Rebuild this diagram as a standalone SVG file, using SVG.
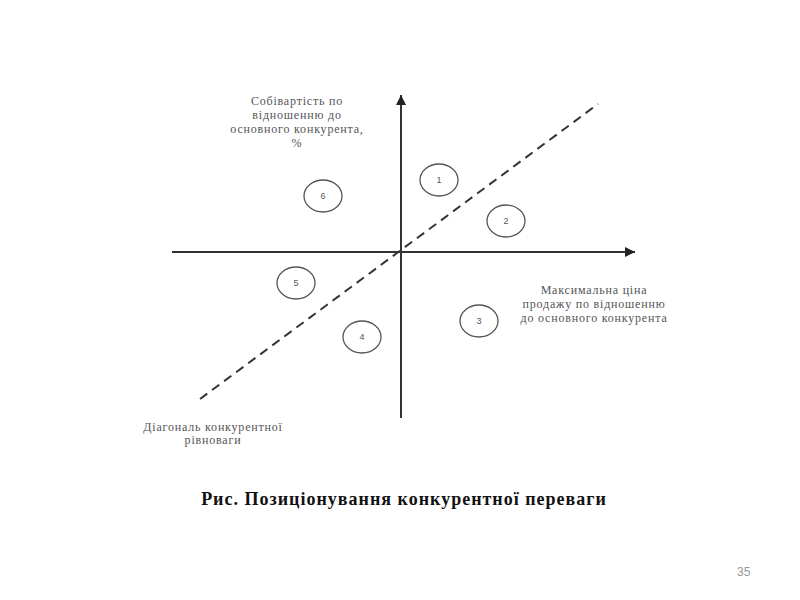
<svg xmlns="http://www.w3.org/2000/svg" width="800" height="600" viewBox="0 0 800 600">
<defs>
<marker id="arr" viewBox="0 0 10 10" refX="10" refY="5" markerWidth="10" markerHeight="10" markerUnits="userSpaceOnUse" orient="auto">
<path d="M0,0 L10,5 L0,10 z" fill="#222"/>
</marker>
<style>
.ax{stroke:#333;stroke-width:2;fill:none}
.dash{stroke:#333;stroke-width:2;fill:none;stroke-dasharray:9,6}
.c{fill:none;stroke:#555;stroke-width:1.3}
.n{font-family:"Liberation Sans",Arial,sans-serif;font-size:9px;fill:#555;text-anchor:middle}
.lbl{font-family:"Liberation Serif","Times New Roman",serif;font-size:12px;letter-spacing:0.8px;fill:#555;text-anchor:middle}
.cap{font-family:"Liberation Serif","Times New Roman",serif;font-size:18px;letter-spacing:1px;font-weight:bold;fill:#111;text-anchor:middle}
.pg{font-family:"Liberation Sans",Arial,sans-serif;font-size:12px;fill:#999}
</style>
</defs>
<rect width="800" height="600" fill="#fff"/>
<g id="connectors">
<line class="ax" x1="401" y1="418" x2="401" y2="95" marker-end="url(#arr)"/>
<line class="ax" x1="172" y1="252" x2="635" y2="252" marker-end="url(#arr)"/>
<line class="dash" x1="200" y1="399" x2="598" y2="104"/>
</g>
<g id="n1"><ellipse class="c" cx="439" cy="180" rx="19" ry="16"/><text class="n" x="439" y="183">1</text></g>
<g id="n2"><ellipse class="c" cx="506" cy="221" rx="19" ry="16"/><text class="n" x="506" y="224">2</text></g>
<g id="n3"><ellipse class="c" cx="479" cy="321" rx="19" ry="16"/><text class="n" x="479" y="324">3</text></g>
<g id="n4"><ellipse class="c" cx="362" cy="337" rx="19" ry="16"/><text class="n" x="362" y="340">4</text></g>
<g id="n5"><ellipse class="c" cx="296" cy="283" rx="19" ry="16"/><text class="n" x="296" y="286">5</text></g>
<g id="n6"><ellipse class="c" cx="323" cy="196" rx="19" ry="16"/><text class="n" x="323" y="199">6</text></g>
<g id="label-y">
<text class="lbl" x="297" y="105">Собівартість по</text>
<text class="lbl" x="297" y="119">відношенню до</text>
<text class="lbl" x="297" y="133">основного конкурента,</text>
<text class="lbl" x="297" y="147">%</text>
</g>
<g id="label-x">
<text class="lbl" x="594" y="294">Максимальна ціна</text>
<text class="lbl" x="594" y="308">продажу по відношенню</text>
<text class="lbl" x="594" y="322">до основного конкурента</text>
</g>
<g id="label-diag">
<text class="lbl" x="213" y="431">Діагональ конкурентної</text>
<text class="lbl" x="213" y="444">рівноваги</text>
</g>
<text class="cap" x="404" y="505">Рис. Позиціонування конкурентної переваги</text>
<text class="pg" x="737" y="576">35</text>
</svg>
